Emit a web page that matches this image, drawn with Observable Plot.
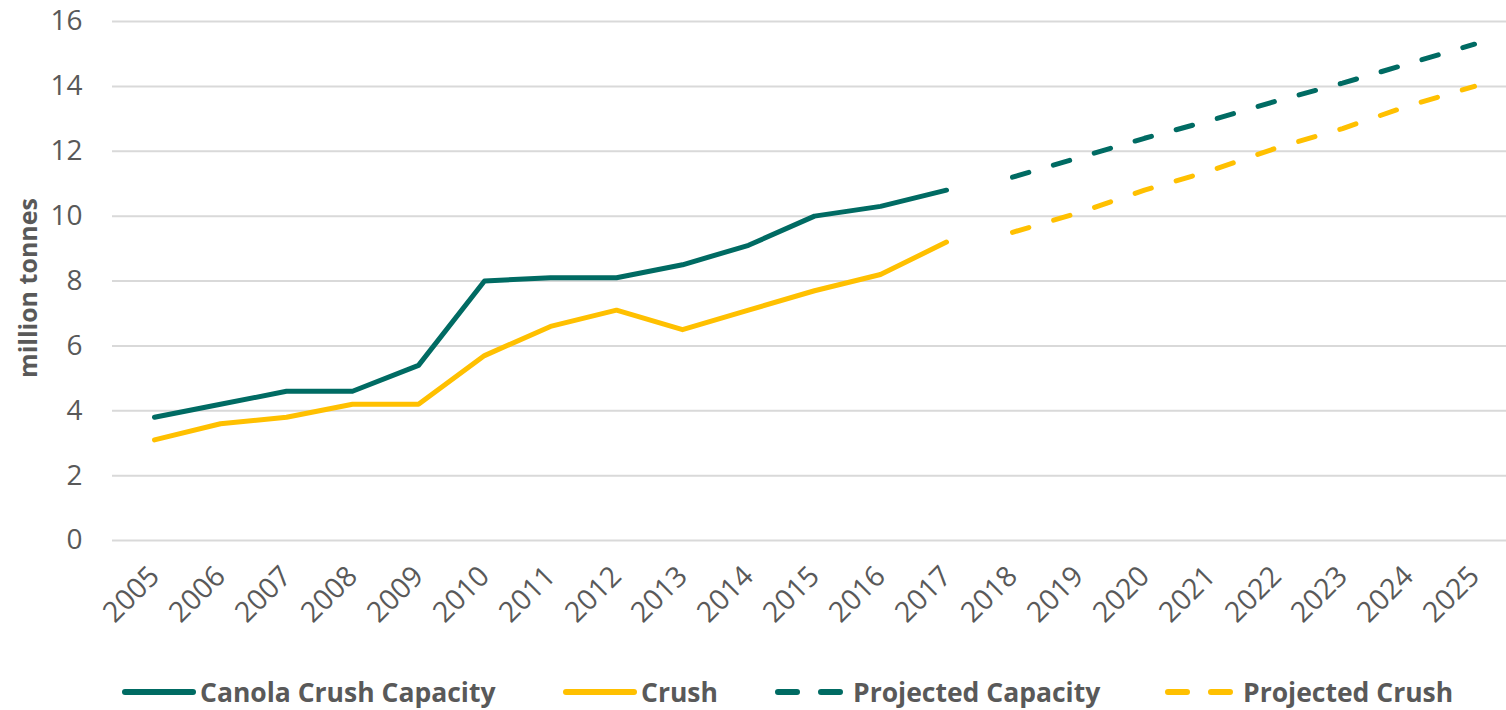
<!DOCTYPE html>
<html>
<head>
<meta charset="utf-8">
<script src="https://cdn.jsdelivr.net/npm/d3@7"></script>
<script src="https://cdn.jsdelivr.net/npm/@observablehq/plot@0.6"></script>
<style>
  html, body { margin: 0; padding: 0; background: #fff; }
  #wrap { width: 1506px; height: 710px; position: relative; overflow: hidden; font-family: "Open Sans", sans-serif; color: #595959; }
  #chart svg { overflow: visible; }
  #legend { position: absolute; top: 660px; left: 0; width: 1506px; height: 50px; }
  .item { position: absolute; top: 14px; display: flex; align-items: center; font-weight: bold; font-size: 26.5px; color: #595959; white-space: nowrap; }
  .item svg { margin-right: 3px; }
</style>
</head>
<body>
<div id="wrap">
  <div id="chart"></div>
  <div id="legend"></div>
</div>
<script>
const years = ["2005","2006","2007","2008","2009","2010","2011","2012","2013","2014","2015","2016","2017","2018","2019","2020","2021","2022","2023","2024","2025"];
const histYears = years.slice(0, 13);
const projYears = years.slice(13);
const capacity = [3.8, 4.2, 4.6, 4.6, 5.4, 8.0, 8.1, 8.1, 8.5, 9.1, 10.0, 10.3, 10.8];
const crush = [3.1, 3.6, 3.8, 4.2, 4.2, 5.7, 6.6, 7.1, 6.5, 7.1, 7.7, 8.2, 9.2];
const projCapacity = [11.2, 11.8, 12.4, 12.95, 13.55, 14.1, 14.7, 15.3];
const projCrush = [9.5, 10.1, 10.8, 11.4, 12.1, 12.7, 13.4, 14.0];
const yTicks = [0, 2, 4, 6, 8, 10, 12, 14, 16];
const seriesNames = ["Canola Crush Capacity", "Crush", "Projected Capacity", "Projected Crush"];

const TEAL = "#006B63", GOLD = "#FFC000";
const toRows = (xs, vs) => xs.map((x, i) => ({year: x, value: vs[i]}));

const chart = Plot.plot({
  width: 1506,
  height: 655,
  marginLeft: 112,
  marginRight: 0,
  marginTop: 21,
  marginBottom: 115,
  style: {fontFamily: "'Open Sans', sans-serif", fontSize: "28.5px", color: "#595959", background: "#fff"},
  x: {type: "point", domain: years, range: [146, 1482], padding: 0},
  y: {domain: [0, 16]},
  marks: [
    Plot.ruleY(yTicks, {stroke: "#D9D9D9", strokeWidth: 2}),
    Plot.axisY(yTicks, {tickSize: 0, tickPadding: 30, fontSize: 28, label: null}),
    Plot.axisX(years, {tickSize: 0, tickRotate: -45, tickPadding: 31, label: null}),
    Plot.line(toRows(histYears, capacity), {x: "year", y: "value", stroke: TEAL, strokeWidth: 5, strokeLinecap: "round", strokeLinejoin: "round"}),
    Plot.line(toRows(histYears, crush), {x: "year", y: "value", stroke: GOLD, strokeWidth: 5, strokeLinecap: "round", strokeLinejoin: "round"}),
    Plot.line(toRows(projYears, projCapacity), {x: "year", y: "value", stroke: TEAL, strokeWidth: 5, strokeLinecap: "round", strokeDasharray: "17,25.6"}),
    Plot.line(toRows(projYears, projCrush), {x: "year", y: "value", stroke: GOLD, strokeWidth: 5, strokeLinecap: "round", strokeDasharray: "17,25.9"}),
    Plot.text(["million tonnes"], {frameAnchor: "left", dx: -84, dy: 7, rotate: -90, textAnchor: "middle", fontWeight: "bold", fontSize: 25, fill: "#595959"})
  ]
});
document.getElementById("chart").appendChild(chart);

const legend = document.getElementById("legend");
const items = [
  {name: seriesNames[0], color: TEAL, dash: null, left: 121},
  {name: seriesNames[1], color: GOLD, dash: null, left: 562},
  {name: seriesNames[2], color: TEAL, dash: "19,24", left: 774},
  {name: seriesNames[3], color: GOLD, dash: "19,24", left: 1164}
];
for (const it of items) {
  const d = document.createElement("div");
  d.className = "item";
  d.style.left = it.left + "px";
  d.innerHTML = `<svg width="76" height="12"><line x1="4" y1="6" x2="72" y2="6" stroke="${it.color}" stroke-width="6" stroke-linecap="round" ${it.dash ? `stroke-dasharray="${it.dash}"` : ""}/></svg><span>${it.name}</span>`;
  legend.appendChild(d);
}
</script>
</body>
</html>
